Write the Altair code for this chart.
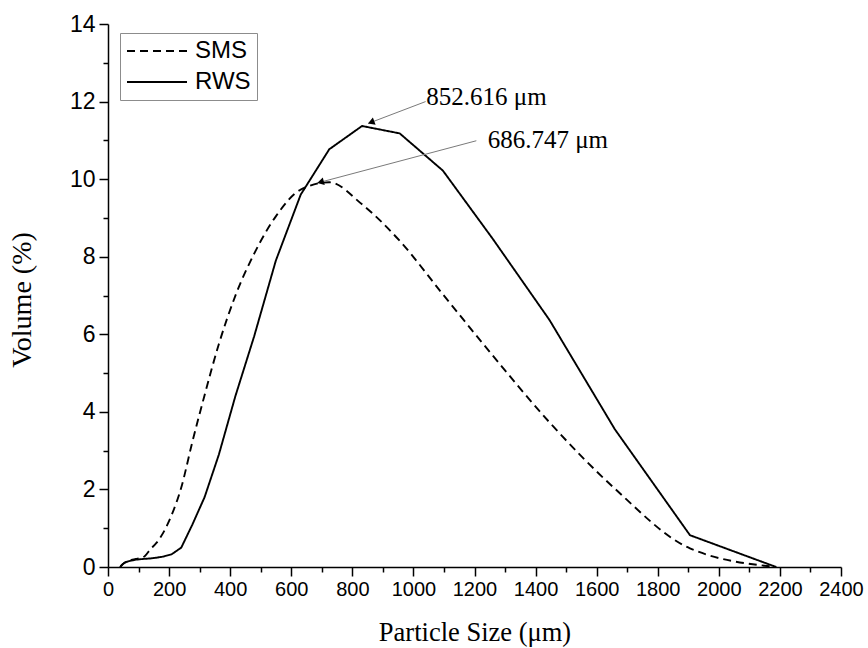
import math

import altair as alt
import numpy as np
import pandas as pd

# Laser-diffraction size classes (µm)
size_um = [39.811, 45.709, 52.481, 60.256, 69.183, 79.433, 91.201, 104.713, 120.226,
           138.038, 158.489, 181.970, 208.930, 239.883, 275.423, 316.228, 363.078,
           416.869, 478.630, 549.541, 630.957, 724.436, 831.764, 954.993, 1096.478,
           1258.925, 1445.440, 1659.587, 1905.461, 2187.762]

# Volume fraction (%) in each class
sms_volume = [0.0, 0.05, 0.10, 0.14, 0.17, 0.19, 0.21, 0.23, 0.28, 0.45,
              0.62, 0.90, 1.35, 2.05, 3.20, 4.43, 5.75, 6.99, 8.08, 9.04,
              9.73, 9.92, 9.35, 8.41, 7.03, 5.46, 3.73, 2.02, 0.48, 0.0]
rws_volume = [0.0, 0.06, 0.10, 0.13, 0.15, 0.17, 0.19, 0.20, 0.21, 0.22,
              0.24, 0.27, 0.33, 0.50, 1.08, 1.80, 2.90, 4.40, 5.95, 7.90,
              9.60, 10.77, 11.37, 11.18, 10.22, 8.47, 6.37, 3.55, 0.82, 0.0]

series_names = ["SMS", "RWS"]

# Modal sizes marked with leader arrows
mode_series = ["RWS", "SMS"]
mode_size = [852.616, 686.747]
mode_label = ["852.616 μm", "686.747 μm"]
label_x = [1042, 1243]
label_y = [12.12, 11.0]
leader_x = [1040, 1206]
leader_y = [12.0, 10.99]

x_ticks = list(range(0, 2401, 200))
x_minor = list(range(100, 2400, 200))
y_ticks = list(range(0, 15, 2))
y_minor = list(range(1, 14, 2))

W, H = 733, 543
X_MAX, Y_MAX = 2400, 14
px_x = W / X_MAX
px_y = H / Y_MAX

sms_df = pd.DataFrame({"size": size_um, "volume": sms_volume, "sample": "SMS"})
rws_df = pd.DataFrame({"size": size_um, "volume": rws_volume, "sample": "RWS"})
curves = pd.concat([sms_df, rws_df], ignore_index=True)

# leader lines end just above the curve at the modal size
series_lookup = {"SMS": sms_volume, "RWS": rws_volume}
lift = {"RWS": 0.1, "SMS": 0.06}
rows = []
for s, m, lab, lx, ly, sx, sy in zip(mode_series, mode_size, mode_label,
                                     label_x, label_y, leader_x, leader_y):
    tip_y = float(np.interp(m, size_um, series_lookup[s])) + lift[s]
    dx = (m - sx) * px_x
    dy = -(tip_y - sy) * px_y
    ang = math.degrees(math.atan2(dx, -dy)) % 360
    norm = math.hypot(dx, dy)
    back = 4.0
    head_x = m - back * dx / norm / px_x
    head_y = tip_y + back * dy / norm / px_y
    rows.append({"label": lab, "lx": lx, "ly": ly, "sx": sx, "sy": sy,
                 "tx": m, "ty": tip_y, "hx": head_x, "hy": head_y, "angle": ang})
notes = pd.DataFrame(rows)

x_scale = alt.Scale(domain=[0, X_MAX], nice=False, zero=False)
y_scale = alt.Scale(domain=[0, Y_MAX], nice=False)

axis_common = dict(
    grid=False, domainColor="black", domainWidth=1.5, tickColor="black",
    tickWidth=1.5, labelColor="black", labelFont="Liberation Sans",
    titleFont="Liberation Serif", titleFontWeight="normal", titleColor="black",
    labelFlush=False, labelOverlap=False, titleBaseline="middle", format="d",
)

x_axis = alt.Axis(values=x_ticks, title="Particle Size (μm)", tickSize=9,
                  labelFontSize=20, titleFontSize=26.5, labelPadding=3,
                  titleY=65, orient="bottom", **axis_common)
y_axis = alt.Axis(values=y_ticks, title="Volume (%)", tickSize=9,
                  labelFontSize=23, titleFontSize=28, labelPadding=4,
                  titleX=-86, titleY=H / 2 + 4, titleAngle=-90,
                  orient="left", **axis_common)
x_minor_axis = alt.Axis(values=x_minor, labels=False, title=None, tickSize=5,
                        tickWidth=1.5, tickColor="black", domain=False,
                        grid=False, orient="bottom")
y_minor_axis = alt.Axis(values=y_minor, labels=False, title=None, tickSize=5,
                        tickWidth=1.5, tickColor="black", domain=False,
                        grid=False, orient="left")

# a 60px horizontal stroke drawn from the left edge of each legend entry
legend_line = "M-1,0H4.4545"
dash_scale = alt.Scale(domain=series_names, range=[[8, 5], [1, 0]])
legend = alt.Legend(
    title=None, orient="none", legendX=12, legendY=9, fillColor="white",
    strokeColor="#8c8c8c", padding=6, symbolType=legend_line, symbolSize=484,
    symbolStrokeWidth=2, symbolStrokeColor="black", labelFont="Liberation Sans",
    labelFontSize=24, labelColor="black", labelOffset=45, rowPadding=7,
    cornerRadius=0,
)

sms_line = alt.Chart(sms_df).mark_line(interpolate="monotone", color="black",
                                       strokeWidth=1.9).encode(
    x=alt.X("size:Q", scale=x_scale, axis=x_axis),
    y=alt.Y("volume:Q", scale=y_scale, axis=y_axis),
    strokeDash=alt.StrokeDash("sample:N", scale=dash_scale, legend=legend),
)
rws_line = alt.Chart(rws_df).mark_line(color="black", strokeWidth=1.9).encode(
    x=alt.X("size:Q", scale=x_scale, axis=None),
    y=alt.Y("volume:Q", scale=y_scale, axis=None),
    strokeDash=alt.StrokeDash("sample:N", scale=dash_scale, legend=legend),
)
minor_ticks = alt.Chart(curves).mark_point(opacity=0).encode(
    x=alt.X("size:Q", scale=x_scale, axis=x_minor_axis),
    y=alt.Y("volume:Q", scale=y_scale, axis=y_minor_axis),
)

leaders = alt.Chart(notes).mark_rule(color="#7a7a7a", strokeWidth=1).encode(
    x=alt.X("sx:Q", scale=x_scale, axis=None),
    y=alt.Y("sy:Q", scale=y_scale, axis=None),
    x2="tx:Q",
    y2="ty:Q",
)
heads = alt.Chart(notes).mark_point(shape="triangle", filled=True, color="black",
                                    opacity=1, size=60).encode(
    x=alt.X("hx:Q", scale=x_scale, axis=None),
    y=alt.Y("hy:Q", scale=y_scale, axis=None),
    angle=alt.Angle("angle:Q", scale=None),
)
labels = alt.Chart(notes).mark_text(align="left", baseline="middle",
                                    font="Liberation Serif", fontSize=25,
                                    color="black").encode(
    x=alt.X("lx:Q", scale=x_scale, axis=None),
    y=alt.Y("ly:Q", scale=y_scale, axis=None),
    text="label:N",
)

chart = (
    alt.layer(minor_ticks, sms_line, rws_line, leaders, heads, labels)
    .resolve_scale(x="shared", y="shared")
    .resolve_axis(x="independent", y="independent")
    .properties(
        width=W, height=H,
        autosize=alt.AutoSizeParams(type="none"),
        padding={"left": 108, "top": 24, "right": 27, "bottom": 81},
        background="white",
    )
    .configure_view(stroke=None)
)

chart.save("out.html", embed_options={"renderer": "svg", "actions": False})
